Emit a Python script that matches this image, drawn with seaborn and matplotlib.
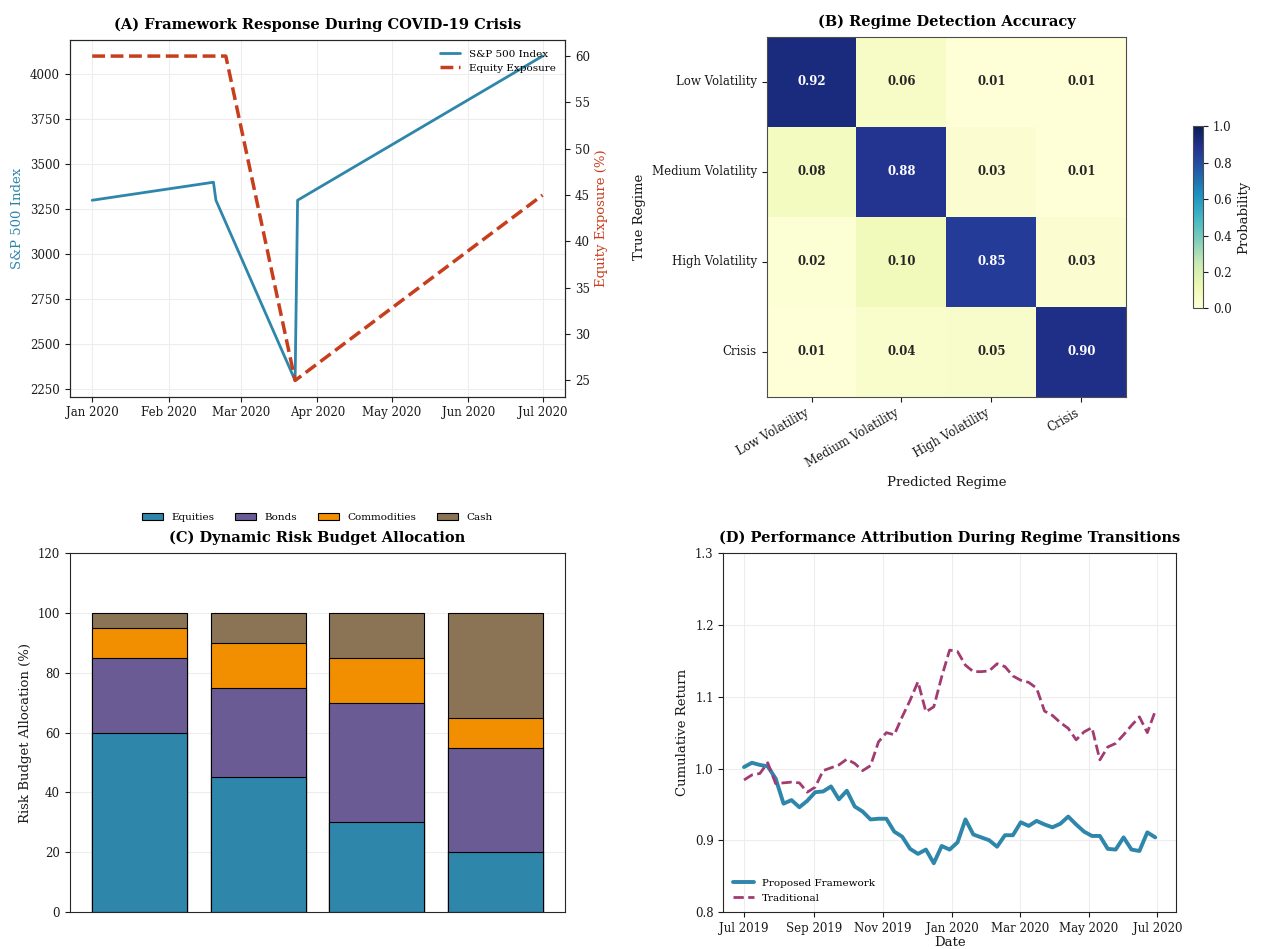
import numpy as np
import pandas as pd
import seaborn as sns
import matplotlib.pyplot as plt
import matplotlib.dates as mdates
from matplotlib.patches import Patch

# ---- data -------------------------------------------------------------------
sp_dates = pd.to_datetime(['2020-01-01', '2020-02-19', '2020-02-20',
                           '2020-03-23', '2020-03-24', '2020-07-01'])
sp_values = [3300, 3400, 3300, 2300, 3300, 4100]
exp_dates = pd.to_datetime(['2020-01-01', '2020-02-24', '2020-03-23', '2020-07-01'])
exp_values = [60, 60, 25, 45]

regimes = ['Low Volatility', 'Medium Volatility', 'High Volatility', 'Crisis']
confusion = [[0.92, 0.06, 0.01, 0.01],
             [0.08, 0.88, 0.03, 0.01],
             [0.02, 0.10, 0.85, 0.03],
             [0.01, 0.04, 0.05, 0.90]]

assets = ['Equities', 'Bonds', 'Commodities', 'Cash']
equities = [60, 45, 30, 20]
bonds = [25, 30, 40, 35]
commodities = [10, 15, 15, 10]
cash = [5, 10, 15, 35]

perf_dates = pd.date_range('2019-07-01', periods=53, freq='7D')
proposed = [1.002, 1.008, 1.005, 1.003, 0.986, 0.951, 0.956, 0.946, 0.955, 0.967,
            0.968, 0.975, 0.957, 0.969, 0.947, 0.940, 0.929, 0.930, 0.930, 0.912,
            0.905, 0.888, 0.881, 0.887, 0.868, 0.892, 0.887, 0.897, 0.929, 0.908,
            0.904, 0.900, 0.891, 0.907, 0.907, 0.925, 0.920, 0.927, 0.922, 0.918,
            0.923, 0.933, 0.922, 0.912, 0.906, 0.906, 0.888, 0.887, 0.904, 0.887,
            0.885, 0.911, 0.904]
traditional = [0.984, 0.991, 0.993, 1.008, 0.979, 0.980, 0.981, 0.980, 0.967, 0.974,
               0.997, 1.001, 1.005, 1.013, 1.007, 0.997, 1.004, 1.037, 1.050, 1.047,
               1.072, 1.095, 1.121, 1.079, 1.086, 1.128, 1.165, 1.163, 1.144, 1.135,
               1.135, 1.136, 1.146, 1.142, 1.129, 1.123, 1.120, 1.112, 1.080, 1.074,
               1.064, 1.056, 1.040, 1.051, 1.057, 1.012, 1.030, 1.035, 1.047, 1.060,
               1.072, 1.050, 1.080]

blue = '#2E86AB'
red = '#C73E1D'
pink = '#A23B72'
asset_colors = ['#2E86AB', '#6B5B95', '#F18F01', '#8B7355']

# ---- style ------------------------------------------------------------------
sns.set_style('whitegrid', {'axes.edgecolor': '0.15', 'grid.color': '0.93'})
plt.rcParams['font.family'] = 'serif'
plt.rcParams['font.serif'] = ['DejaVu Serif']
plt.rcParams['text.color'] = 'black'
plt.rcParams['axes.labelcolor'] = '0.1'
plt.rcParams['xtick.color'] = '0.1'
plt.rcParams['ytick.color'] = '0.1'
plt.rcParams['xtick.labelsize'] = 8.5
plt.rcParams['ytick.labelsize'] = 8.5
plt.rcParams['axes.labelsize'] = 9.5
plt.rcParams['xtick.bottom'] = True
plt.rcParams['ytick.left'] = True

fig = plt.figure(figsize=(12.67, 9.49), dpi=100)
ax_a = fig.add_axes([0.055, 0.582, 0.391, 0.376])
ax_b = fig.add_axes([0.605, 0.582, 0.284, 0.379])
ax_cb = fig.add_axes([0.9416, 0.675, 0.008, 0.192])
ax_c = fig.add_axes([0.055, 0.039, 0.391, 0.378])
ax_d = fig.add_axes([0.571, 0.039, 0.357, 0.378])

title_kw = dict(fontsize=10.5, fontweight='bold', pad=8, color='black')

# (A)
sns.lineplot(x=sp_dates, y=sp_values, ax=ax_a, color=blue, linewidth=2,
             label='S&P 500 Index', legend=False)
ax_a2 = ax_a.twinx()
sns.lineplot(x=exp_dates, y=exp_values, ax=ax_a2, color=red, linewidth=2.5,
             linestyle='--', label='Equity Exposure', legend=False)
ax_a2.grid(False)
ax_a.set_xlabel('')
ax_a.set_ylabel('S&P 500 Index', color=blue)
ax_a2.set_ylabel('Equity Exposure (%)', color=red)
ax_a.xaxis.set_major_locator(mdates.MonthLocator())
ax_a.xaxis.set_major_formatter(mdates.DateFormatter('%b %Y'))
ax_a2.tick_params(axis='y', right=True)
h1, l1 = ax_a.get_legend_handles_labels()
h2, l2 = ax_a2.get_legend_handles_labels()
ax_a.legend(h1 + h2, l1 + l2, loc='upper right', fontsize=7.5, frameon=False)
ax_a.set_title('(A) Framework Response During COVID-19 Crisis', **title_kw)

# (B)
cm = pd.DataFrame(confusion, index=regimes, columns=regimes)
sns.heatmap(cm, ax=ax_b, cbar_ax=ax_cb, cmap='YlGnBu', vmin=0, vmax=1,
            annot=True, fmt='.2f', annot_kws={'fontweight': 'bold', 'fontsize': 8.5},
            cbar_kws={'label': 'Probability'})
for s in ax_b.spines.values():
    s.set_visible(True)
    s.set_color('0.3')
cbar = ax_b.collections[0].colorbar
cbar.outline.set_visible(True)
cbar.outline.set_edgecolor('0.3')
cbar.outline.set_linewidth(0.8)
ax_b.set_xlabel('Predicted Regime')
ax_b.set_ylabel('True Regime')
ax_b.set_xticklabels(regimes, rotation=30, ha='right')
ax_b.set_yticklabels(regimes, rotation=0)
ax_b.set_title('(B) Regime Detection Accuracy', **title_kw)
ax_cb.tick_params(labelsize=8.5)
ax_cb.yaxis.label.set_size(9.5)

# (C) stacked bars, drawn tallest first
layers = [equities, bonds, commodities, cash]
cum = np.cumsum(layers, axis=0)
for i in range(3, -1, -1):
    sns.barplot(x=regimes, y=cum[i], ax=ax_c, color=asset_colors[i],
                edgecolor='black', linewidth=0.8, saturation=1, width=0.8)
handles = [Patch(facecolor=c, edgecolor='black', linewidth=0.8) for c in asset_colors]
ax_c.legend(handles, assets, loc='lower center', bbox_to_anchor=(0.5, 1.06),
            ncol=4, frameon=False, fontsize=7.5)
ax_c.set_xlim(-0.59, 3.59)
ax_c.set_ylim(0, 120)
ax_c.set_xticklabels([])
ax_c.tick_params(axis='x', bottom=False)
ax_c.grid(axis='x', visible=False)
ax_c.set_ylabel('Risk Budget Allocation (%)')
ax_c.set_title('(C) Dynamic Risk Budget Allocation', **title_kw)

# (D)
sns.lineplot(x=perf_dates, y=proposed, ax=ax_d, color=blue, linewidth=2.8,
             label='Proposed Framework')
sns.lineplot(x=perf_dates, y=traditional, ax=ax_d, color=pink, linewidth=2,
             linestyle='--', label='Traditional')
ax_d.set_ylim(0.8, 1.3)
ax_d.xaxis.set_major_locator(mdates.MonthLocator(bymonth=[1, 3, 5, 7, 9, 11]))
ax_d.xaxis.set_major_formatter(mdates.DateFormatter('%b %Y'))
ax_d.set_xlabel('Date', labelpad=1)
ax_d.set_ylabel('Cumulative Return')
ax_d.legend(loc='lower left', fontsize=7.5, frameon=False)
ax_d.set_title('(D) Performance Attribution During Regime Transitions', **title_kw)

fig.savefig('out.png', dpi=100)
